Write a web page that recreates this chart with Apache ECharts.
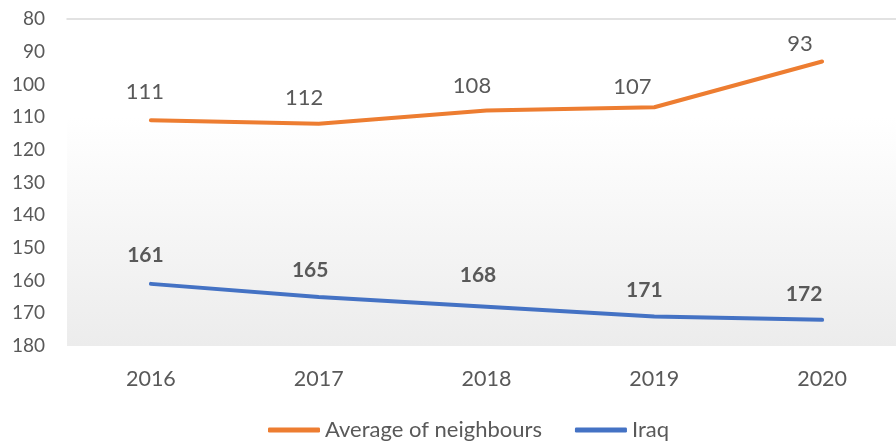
<!DOCTYPE html>
<html><head><meta charset="utf-8">
<script src="https://cdn.jsdelivr.net/npm/echarts@6/dist/echarts.min.js"></script>
<style>html,body{margin:0;padding:0;background:#fff;overflow:hidden}#c{width:910px;height:443px}</style>
</head><body><div id="c"></div>
<script>
const years = ['2016','2017','2018','2019','2020'];
const neighbours = [111, 112, 108, 107, 93];
const iraq = [161, 165, 168, 171, 172];
const yTicks = {min: 80, max: 180, interval: 10};
// label placement (as in the original, labels sit above and slightly left of points)
const neighboursLabelOffset = [[-6,-28],[-14.5,-25.6],[-14.5,-25],[-22,-20],[-22,-17.5]];
const iraqLabelOffset = [[-5.5,-28.5],[-8.5,-26.5],[-8.5,-31.5],[-10,-26],[-18,-25.5]];

const chart = echarts.init(document.getElementById('c'));
const font = 'Lato, "Open Sans", sans-serif';
const withLabels = (vals, offs) => vals.map((v, i) => ({value: v, label: {offset: offs[i]}}));
chart.setOption({
  animation: false,
  textStyle: {fontFamily: font},
  grid: {
    left: 67, top: 19, width: 839, height: 327, show: true, borderWidth: 0, containLabel: false,
    backgroundColor: new echarts.graphic.LinearGradient(0, 0, 0, 1, [
      {offset: 0, color: '#ffffff'}, {offset: 0.3, color: '#ffffff'}, {offset: 1, color: '#ececec'}
    ])
  },
  legend: {
    top: 414, left: 263, itemWidth: 52, itemHeight: 5, itemGap: 33, icon: 'roundRect',
    textStyle: {fontSize: 22, color: '#595959', fontFamily: font},
    data: ['Average of neighbours', 'Iraq']
  },
  xAxis: [{
    type: 'category', data: years, boundaryGap: true,
    axisLine: {show: false}, axisTick: {show: false},
    axisLabel: {fontSize: 21.5, color: '#595959', margin: 22}
  }, {
    type: 'category', data: years, position: 'top',
    axisLine: {show: true, lineStyle: {color: '#d9d9d9', width: 1.5}},
    axisTick: {show: false}, axisLabel: {show: false}
  }],
  yAxis: {
    type: 'value', inverse: true, min: yTicks.min, max: yTicks.max, interval: yTicks.interval,
    axisLine: {show: false}, axisTick: {show: false}, splitLine: {show: false},
    axisLabel: {fontSize: 19, color: '#595959', margin: 22}
  },
  series: [{
    name: 'Average of neighbours', type: 'line', data: withLabels(neighbours, neighboursLabelOffset),
    symbol: 'circle', symbolSize: 0.1, showSymbol: true,
    lineStyle: {color: '#ED7D31', width: 4, cap: 'round'}, itemStyle: {color: '#ED7D31'},
    label: {show: true, position: 'inside', fontSize: 22, color: '#595959'}
  }, {
    name: 'Iraq', type: 'line', data: withLabels(iraq, iraqLabelOffset),
    symbol: 'circle', symbolSize: 0.1, showSymbol: true,
    lineStyle: {color: '#4472C4', width: 4, cap: 'round'}, itemStyle: {color: '#4472C4'},
    label: {show: true, position: 'inside', fontSize: 21, color: '#595959', fontWeight: 'bold'}
  }]
});
</script></body></html>
